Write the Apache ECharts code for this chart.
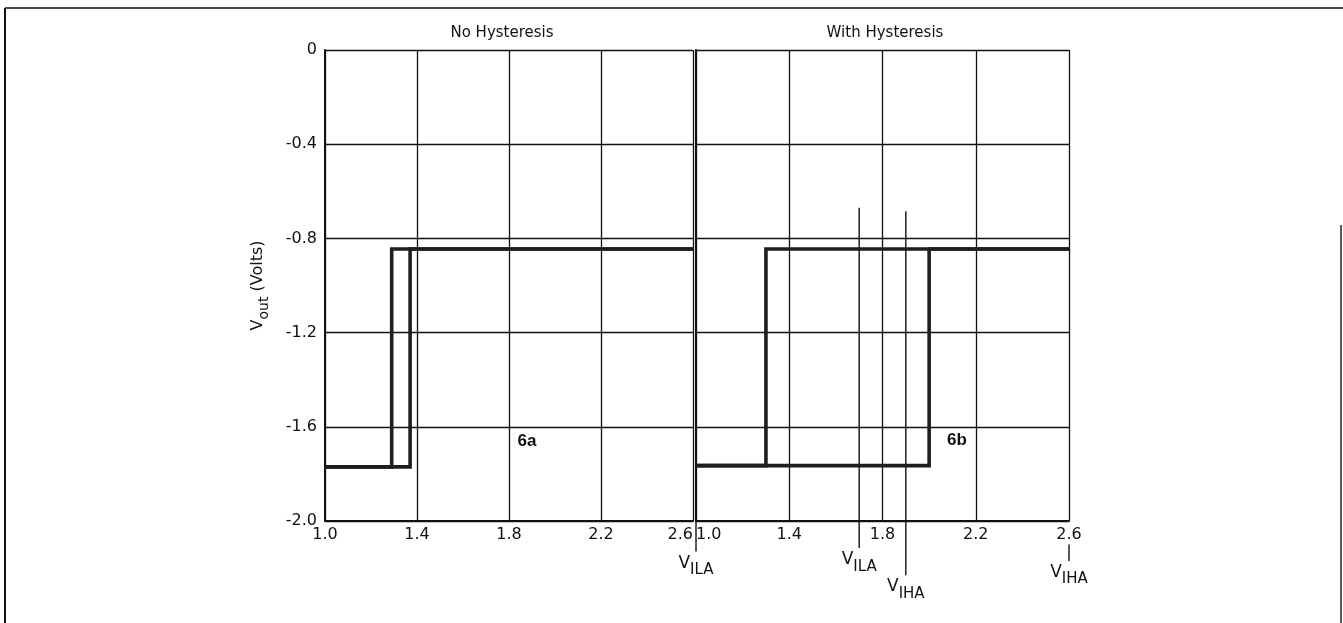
<!DOCTYPE html>
<html><head><meta charset="utf-8">
<script src="https://cdn.jsdelivr.net/npm/echarts@6/dist/echarts.min.js"></script>
<style>html,body{margin:0;padding:0;background:#fff}#c{width:1343px;height:623px}</style>
</head><body><div id="c"></div>
<script>
// ---- data ----
const xTicks = [1.0, 1.4, 1.8, 2.2, 2.6];
const yTicks = [0, -0.4, -0.8, -1.2, -1.6, -2.0];
const panelTitles = ['No Hysteresis', 'With Hysteresis'];
const panelTags = ['6a', '6b'];
// 6a: no hysteresis (rising and falling input sweeps)
const noHystRiseX = [1.0, 1.37, 1.37, 2.6];
const noHystRiseY = [-1.77, -1.77, -0.845, -0.845];
const noHystFallX = [2.6, 1.29, 1.29, 1.0];
const noHystFallY = [-0.845, -0.845, -1.77, -1.77];
// 6b: with hysteresis
const hystRiseX = [1.0, 2.0, 2.0, 2.6];
const hystRiseY = [-1.765, -1.765, -0.845, -0.845];
const hystFallX = [2.6, 1.3, 1.3, 1.0];
const hystFallY = [-0.845, -0.845, -1.765, -1.765];
// threshold markers (on the right panel's axis)
const markerSub = ['ILA', 'ILA', 'IHA', 'IHA'];
const markerX = [1.0, 1.7, 1.9, 2.6];
const markerTop = [-2.0, -0.67, -0.685, -2.10];
const markerBottom = [-2.13, -2.115, -2.23, -2.17];

const FONT = 'DejaVu Sans';
const INK = '#111';
const pairs = (xs, ys) => xs.map((x, i) => [x, ys[i]]);

const chart = echarts.init(document.getElementById('c'), null, {renderer: 'canvas'});

function xAxisFor(gi, alignMin, alignMax) {
  return {
    gridIndex: gi, type: 'value', min: xTicks[0], max: xTicks[xTicks.length - 1],
    axisLine: {show: true, onZero: false, lineStyle: {color: INK, width: 2}},
    axisTick: {show: false, customValues: xTicks},
    splitLine: {show: true, lineStyle: {color: INK, width: 1.3}},
    axisLabel: {customValues: xTicks, formatter: v => v.toFixed(1), color: INK, fontSize: 16,
      fontFamily: FONT, margin: 6, alignMinLabel: alignMin, alignMaxLabel: alignMax}
  };
}
function yAxisFor(gi, showLabels) {
  return {
    gridIndex: gi, type: 'value', min: yTicks[yTicks.length - 1], max: yTicks[0], interval: 0.4,
    axisLine: {show: true, onZero: false, lineStyle: {color: INK, width: 2}},
    axisTick: {show: false},
    splitLine: {show: true, lineStyle: {color: INK, width: 1.3}},
    axisLabel: {show: showLabels, formatter: v => (Math.abs(v) < 1e-9 ? '0' : v.toFixed(1)),
      color: INK, fontSize: 16, fontFamily: FONT, margin: 8},
    name: showLabels ? '{v|V}{s|out}{v| (Volts)}' : '',
    nameLocation: 'middle', nameGap: 54, nameRotate: 90,
    nameTextStyle: {color: INK, fontFamily: FONT, rich: {
      v: {fontSize: 16, fontFamily: FONT, color: INK, verticalAlign: 'top', lineHeight: 17},
      s: {fontSize: 14, fontFamily: FONT, color: INK, verticalAlign: 'bottom', lineHeight: 21}
    }}
  };
}
const curveStyle = {color: '#1e1e1e', width: 3.6, join: 'miter'};
function curve(gi, xs, ys) {
  return {type: 'line', xAxisIndex: gi, yAxisIndex: gi, data: pairs(xs, ys), symbol: 'none',
    lineStyle: curveStyle, z: 5, silent: true, animation: false};
}

const series = [
  curve(0, noHystRiseX, noHystRiseY), curve(0, noHystFallX, noHystFallY),
  curve(1, hystRiseX, hystRiseY), curve(1, hystFallX, hystFallY)
];
markerX.forEach((x, i) => {
  series.push({type: 'line', xAxisIndex: 1, yAxisIndex: 1, clip: false, symbol: 'none',
    data: [[x, markerTop[i]], [x, markerBottom[i]]], lineStyle: {color: INK, width: 1.4},
    z: 4, silent: true, animation: false});
});
series.push({type: 'scatter', xAxisIndex: 1, yAxisIndex: 1, clip: false, symbolSize: 0.1,
  silent: true, animation: false, itemStyle: {color: INK, opacity: 1},
  data: markerX.map((x, i) => ({value: [x, markerBottom[i]], sub: markerSub[i]})),
  label: {show: true, position: 'bottom', distance: 3, color: INK, opacity: 1,
    formatter: p => '{v|V}{s|' + p.data.sub + '}',
    rich: {
      v: {fontSize: 17, fontFamily: FONT, color: INK, verticalAlign: 'top', lineHeight: 17},
      s: {fontSize: 15, fontFamily: FONT, color: INK, verticalAlign: 'bottom', lineHeight: 23}
    }}
});

chart.setOption({
  backgroundColor: '#fff',
  animation: false,
  grid: [
    {left: 325, top: 50, width: 368, height: 471, containLabel: false, outerBoundsMode: 'none'},
    {left: 696, top: 50, width: 373, height: 471, containLabel: false, outerBoundsMode: 'none'}
  ],
  xAxis: [xAxisFor(0, 'center', 'right'), xAxisFor(1, 'left', 'center')],
  yAxis: [yAxisFor(0, true), yAxisFor(1, false)],
  series: series,
  graphic: [
    {type: 'line', shape: {x1: 5, y1: 8, x2: 1343, y2: 8}, style: {stroke: INK, lineWidth: 1.6}},
    {type: 'line', shape: {x1: 5, y1: 8, x2: 5, y2: 623}, style: {stroke: INK, lineWidth: 2}},
    {type: 'line', shape: {x1: 1341, y1: 225, x2: 1341, y2: 623}, style: {stroke: '#333', lineWidth: 1.6}},
    {type: 'text', x: 502, y: 33, style: {text: panelTitles[0], font: '15px "DejaVu Sans"', fill: INK, align: 'center', verticalAlign: 'middle'}},
    {type: 'text', x: 885, y: 33, style: {text: panelTitles[1], font: '15px "DejaVu Sans"', fill: INK, align: 'center', verticalAlign: 'middle'}},
    {type: 'text', x: 527, y: 441, z: 10, style: {text: panelTags[0], font: 'bold 17px "Liberation Sans"', fill: INK, align: 'center', verticalAlign: 'middle'}},
    {type: 'text', x: 957, y: 440, z: 10, style: {text: panelTags[1], font: 'bold 17px "Liberation Sans"', fill: INK, align: 'center', verticalAlign: 'middle'}}
  ]
});
</script></body></html>
